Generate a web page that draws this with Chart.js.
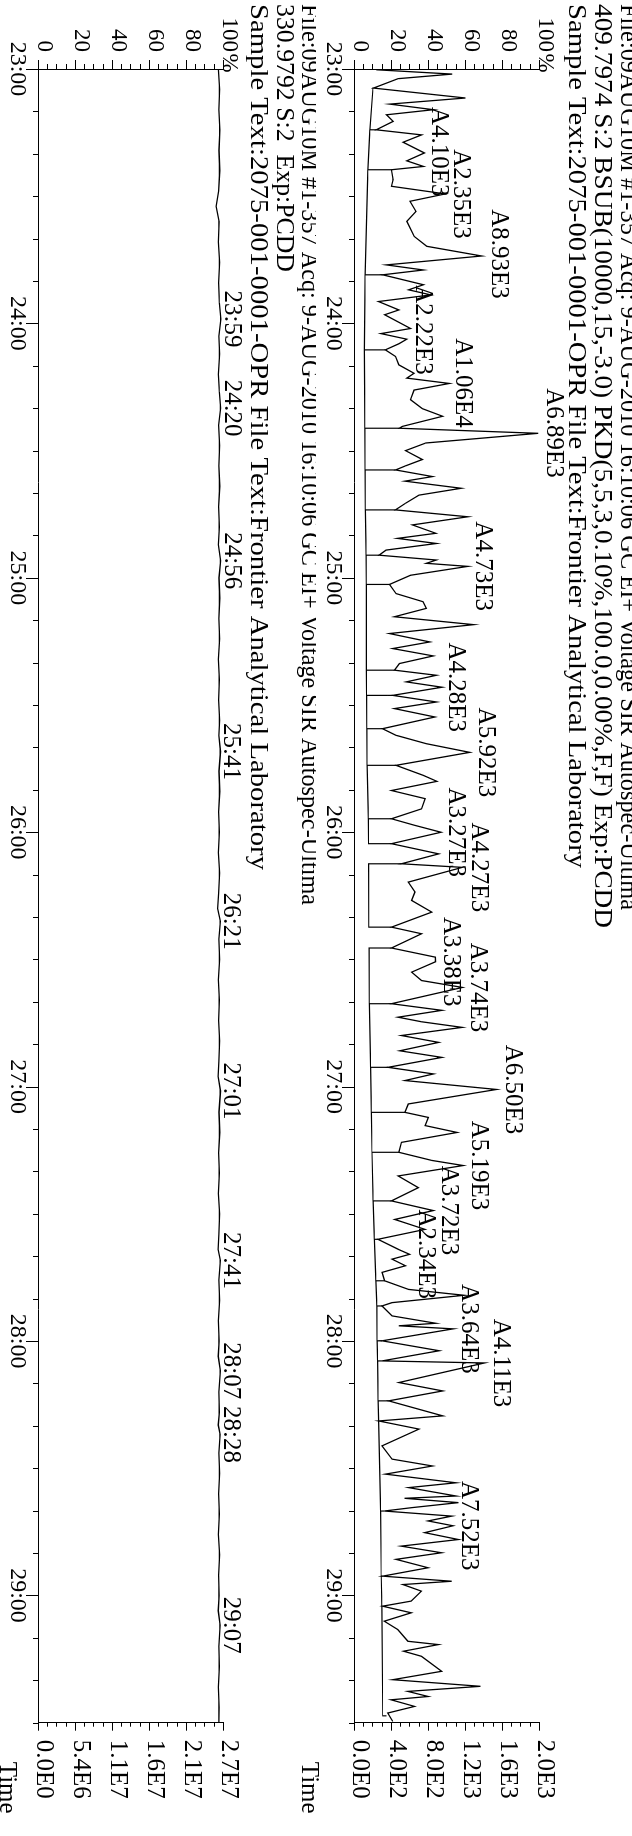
<!DOCTYPE html>
<html><head><meta charset="utf-8">
<script src="https://cdn.jsdelivr.net/npm/chart.js@4/dist/chart.umd.min.js"></script>
<style>
html,body{margin:0;padding:0;background:#fff;overflow:hidden;}
#page{position:absolute;left:0;top:0;width:632px;height:1836px;overflow:hidden;background:#fff;}
#rot{position:absolute;left:0;top:0;width:1836px;height:632px;transform-origin:0 0;transform:translate(632px,0) rotate(90deg);}
#rot canvas{position:absolute;left:0;}
</style></head><body>
<div id="page"><div id="rot">
<canvas id="c1" width="1836" height="340" style="top:0px"></canvas>
<canvas id="c2" width="1836" height="316" style="top:316px"></canvas>
</div></div>
<script>
// ---------- DATA ----------
const timeTickValues = [23, 24, 25, 26, 27, 28, 29];
const timeTickLabels = ['23:00', '24:00', '25:00', '26:00', '27:00', '28:00', '29:00'];
const pctTickValues = [0, 20, 40, 60, 80, 100];
const pctTickLabels = ['0', '20', '40', '60', '80', '100'];

const upperHeader = [
  'File:09AUG10M #1-357 Acq: 9-AUG-2010 16:10:06 GC EI+ Voltage SIR Autospec-Ultima',
  '409.7974 S:2 BSUB(10000,15,-3.0) PKD(5,5,3,0.10%,100.0,0.00%,F,F) Exp:PCDD',
  'Sample Text:2075-001-0001-OPR File Text:Frontier Analytical Laboratory'
];
const lowerHeader = [
  'File:09AUG10M #1-357 Acq: 9-AUG-2010 16:10:06 GC EI+ Voltage SIR Autospec-Ultima',
  '330.9792 S:2  Exp:PCDD',
  'Sample Text:2075-001-0001-OPR File Text:Frontier Analytical Laboratory'
];

const upperIntensityTicks = [0, 400, 800, 1200, 1600, 2000];
const upperIntensityLabels = ['0.0E0', '4.0E2', '8.0E2', '1.2E3', '1.6E3', '2.0E3'];
const lowerIntensityTicks = [0, 5.4e6, 1.08e7, 1.62e7, 2.16e7, 2.7e7];
const lowerIntensityLabels = ['0.0E0', '5.4E6', '1.1E7', '1.6E7', '2.1E7', '2.7E7'];

// upper trace (m/z 409.7974), time in minutes, intensity in %
const upperTimes = [
 23.003,23.020,23.038,23.075,23.114,23.138,23.160,23.180,23.206,23.239,23.259,23.288,23.330,23.361,23.383,23.396,23.435,23.461,23.491,23.520,
 23.560,23.599,23.658,23.697,23.735,23.770,23.790,23.809,23.848,23.868,23.888,
 23.914,23.947,23.966,24.020,24.040,24.062,24.080,24.104,24.130,24.163,24.196,24.215,24.236,24.262,24.300,24.335,24.365,24.405,24.412,
 24.432,24.470,24.500,24.535,24.560,24.576,24.602,24.620,24.648,24.675,24.707,24.733,24.760,24.792,24.825,
 24.845,24.865,24.891,24.911,24.930,24.943,24.955,24.990,25.026,25.062,25.094,25.120,25.153,25.184,25.219,25.252,25.278,25.307,25.337,25.363,
 25.383,25.409,25.430,25.462,25.488,25.514,25.547,25.593,25.619,25.652,25.686,25.737,25.776,
 25.800,25.836,25.868,25.908,25.947,25.973,26.000,26.045,26.085,26.124,26.138,26.196,26.235,26.268,26.314,26.373,26.399,26.455,26.491,26.509,
 26.550,26.583,26.610,26.674,26.700,26.727,
 26.745,26.767,26.799,26.826,26.859,26.885,26.924,26.950,26.976,27.011,27.068,27.101,27.121,27.153,27.180,27.219,27.258,27.290,27.310,27.351,
 27.397,27.449,27.487,27.522,27.561,27.600,27.639,27.659,
 27.678,27.704,27.730,27.763,27.797,27.820,27.849,27.862,27.901,27.930,27.940,27.952,27.999,28.038,28.078,28.086,28.163,28.196,28.235,28.294,
 28.314,28.346,28.412,28.464,28.491,28.523,28.557,28.576,28.609,
 28.618,28.635,28.655,28.668,28.688,28.707,28.726,28.753,28.780,28.806,28.832,28.858,28.891,28.924,28.944,28.957,28.983,29.022,29.042,29.068,
 29.101,29.134,29.180,29.193,29.219,29.239,29.298,29.331,29.357,29.377,29.397,29.410,29.436,29.462,29.495
];
const upperValues = [
 11.5,52.5,23.3,10.0,59.7,18.8,42.4,17.0,20.6,11.5,36.0,26.0,37.5,28.0,37.0,19.7,20.6,19.7,48.8,29.7,
 33.0,28.0,32.0,38.8,68.5,17.0,37.0,15.0,37.0,29.0,41.0,
 12.7,23.7,16.0,30.0,14.0,28.0,23.7,16.4,21.9,23.7,31.9,28.0,51.0,31.9,30.0,36.4,47.4,25.5,24.0,
 99.0,38.3,27.3,36.4,27.3,21.9,41.9,27.0,57.4,34.6,27.3,21.9,61.0,31.0,43.7,
 23.0,44.0,16.8,13.0,44.0,38.6,61.0,30.0,18.6,22.2,36.8,38.6,21.3,64.1,18.6,40.4,20.4,42.3,24.0,21.3,
 44.0,27.7,47.0,20.4,44.0,21.3,43.2,14.9,22.2,38.6,62.0,22.2,36.8,
 44.3,19.7,37.9,36.0,19.7,32.4,46.5,19.7,45.2,25.1,58.0,28.8,32.4,30.6,41.5,19.7,36.0,19.7,43.4,43.5,
 30.6,36.0,58.0,19.7,47.0,23.3,
 36.0,57.9,25.1,45.2,24.2,47.0,17.9,42.4,27.0,76.5,28.8,27.0,39.7,37.9,55.2,25.1,23.7,41.5,58.5,23.3,
 34.2,19.7,42.3,21.5,37.9,12.4,23.3,29.5,
 20.0,27.3,14.6,16.0,29.0,59.0,20.0,14.6,20.0,43.7,23.7,53.0,14.6,45.5,14.6,70.0,23.7,47.4,18.2,47.4,
 12.8,34.6,14.6,20.0,41.9,16.4,54.6,29.0,54.6,
 26.8,55.9,30.4,15.8,52.3,39.5,53.0,37.7,55.9,25.0,46.8,22.2,39.5,14.9,52.3,25.9,35.9,30.4,14.9,30.4,
 15.8,23.1,28.6,45.0,26.2,35.9,46.8,20.4,67.8,28.6,39.5,19.5,32.2,17.7,20.4
];

// integration baselines under the upper trace (boundary time, baseline level %, trace level %)
const baseTimes  = [23.075,23.239,23.396,23.809,24.104,24.412,24.576,24.733,24.911,25.026,25.363,25.462,25.593,25.737,25.947,26.045,26.124,26.373,26.455,26.674,26.924,27.101,27.258,27.449,27.600,27.763,27.862,27.999,28.078,28.235,28.314,28.668,28.924,29.042,29.473];
const baseLevels = [9.7,8.0,7.0,5.5,5.1,5.3,5.5,5.6,6.0,6.1,6.2,6.3,6.4,6.6,7.2,7.3,7.4,7.5,7.6,7.8,8.4,8.8,9.2,9.8,10.5,11.3,11.8,12.0,12.2,12.5,12.8,13.8,14.2,14.5,15.0];
const baseTops   = [10.0,11.5,19.7,15.0,16.4,24.0,21.9,21.9,13.0,18.6,21.3,20.4,14.9,22.2,19.7,19.7,25.1,19.7,19.7,19.7,17.9,27.0,23.7,19.7,12.4,16.0,14.6,14.6,14.6,18.2,12.8,15.8,14.9,14.9,17.0];
const baseGapAfter = [15, 17];

// labelled peaks of the upper trace
const upperPeakLabels = ['A4.10E3','A2.35E3','A8.93E3','A2.22E3','A1.06E4','A6.89E3','A4.73E3','A4.28E3','A5.92E3','A3.27E3','A4.27E3','A3.38E3','A3.74E3','A6.50E3','A5.19E3','A3.72E3','A2.34E3','A3.64E3','A4.11E3','A7.52E3'];
const upperPeakTimes  = [23.325,23.491,23.727,24.026,24.234,24.431,24.954,25.430,25.686,26.000,26.138,26.509,26.610,27.011,27.310,27.487,27.659,27.952,28.086,28.726];
const upperPeakValues = [37.0,48.6,69.0,28.0,50.0,99.0,60.5,46.0,62.0,46.0,58.5,43.2,57.7,76.6,58.5,42.3,29.7,53.0,70.3,53.0];

// lower trace (m/z 330.9792 lock mass), %
const lowerTimes = [23.00,23.08,23.16,23.24,23.32,23.40,23.48,23.54,23.60,23.68,23.76,23.84,23.92,23.983,24.05,24.12,24.20,24.27,24.333,24.40,
 24.48,24.56,24.64,24.72,24.80,24.87,24.933,25.00,25.08,25.16,25.24,25.32,25.40,25.48,25.56,25.62,25.683,25.76,25.84,25.92,
 26.00,26.08,26.16,26.24,26.30,26.35,26.42,26.50,26.58,26.66,26.74,26.82,26.90,26.96,27.017,27.10,27.18,27.26,27.34,27.42,
 27.50,27.58,27.64,27.683,27.76,27.84,27.92,28.00,28.06,28.117,28.20,28.28,28.33,28.367,28.44,28.52,28.60,28.68,28.76,28.84,
 28.92,29.00,29.06,29.117,29.20,29.28,29.36,29.44,29.50];
const lowerValues = [97.0,97.6,97.2,97.8,97.3,97.7,97.1,95.8,97.4,97.0,97.6,97.1,97.5,98.3,97.2,97.6,97.0,97.5,98.2,97.1,
 97.6,97.2,97.7,97.1,97.5,97.0,98.2,97.3,97.7,97.2,97.6,97.0,97.5,97.1,97.6,97.2,98.1,97.3,97.7,97.1,
 97.5,97.0,97.6,97.1,96.6,98.0,97.2,97.6,97.0,97.5,97.1,97.6,97.2,96.8,98.1,97.3,97.7,97.1,97.5,97.0,
 97.6,97.2,96.8,98.0,97.2,97.6,97.0,97.4,96.9,98.0,97.2,97.5,96.9,97.9,97.2,97.6,97.1,97.5,97.0,97.6,
 97.1,97.4,96.9,97.9,97.2,97.5,97.0,97.4,97.2];
const lowerPeakLabels = ['23:59','24:20','24:56','25:41','26:21','27:01','27:41','28:07','28:28','29:07'];
const lowerPeakTimes  = [23.983,24.333,24.933,25.683,26.350,27.017,27.683,28.117,28.367,29.117];
const lowerPeakValues = [98.3,98.2,98.2,98.1,98.0,98.1,98.0,98.0,97.9,97.9];

// ---------- CHART ----------
const SERIF = '"Liberation Serif", "Times New Roman", serif';
Chart.defaults.font.family = SERIF;
Chart.defaults.color = '#000';

function panelPlugin(p) {
  return {
    id: 'panel' + p.id,
    afterDraw(chart) {
      const ctx = chart.ctx, xs = chart.scales.x, ys = chart.scales.y, ca = chart.chartArea;
      ctx.save();
      ctx.strokeStyle = '#000'; ctx.lineWidth = 1;
      ctx.beginPath();
      for (let v = 0; v <= 100; v += 5) {
        const y = Math.round(ys.getPixelForValue(v)) + 0.5;
        const major = v % 20 === 0;
        ctx.moveTo(ca.left, y); ctx.lineTo(ca.left - (major ? 9 : 5), y);
        ctx.moveTo(ca.right, y); ctx.lineTo(ca.right + (major ? 8 : 4), y);
      }
      for (let s = 0; s <= 390; s += 10) {
        const x = Math.round(xs.getPixelForValue(23 + s / 60)) + 0.5;
        ctx.moveTo(x, ca.bottom); ctx.lineTo(x, ca.bottom + (s % 60 === 0 ? 13 : 6));
      }
      ctx.stroke();
      ctx.fillStyle = '#000';
      // header, each line fitted to the width it has in the print
      ctx.font = '25px ' + SERIF;
      ctx.textAlign = 'left'; ctx.textBaseline = 'middle';
      p.header.forEach((line, i) => {
        const w = ctx.measureText(line).width;
        const sx = (p.headerEnd[i] - 4) / w;
        ctx.save();
        ctx.translate(4, p.headerY[i]);
        ctx.scale(sx, 1);
        ctx.fillText(line, 0, 0);
        ctx.restore();
      });
      // % sign next to 100
      ctx.font = '23px ' + SERIF;
      ctx.textAlign = 'center';
      ctx.fillText('%', ca.left - 6, ys.getPixelForValue(100) - 5);
      // Time
      ctx.font = '25px ' + SERIF;
      ctx.fillText('Time', ca.right + 65, p.timeY);
      // peak labels
      ctx.font = '25px ' + SERIF;
      ctx.textAlign = 'center'; ctx.textBaseline = 'alphabetic';
      p.labels.forEach((lab, i) => {
        const x = xs.getPixelForValue(p.labelTimes[i]);
        const y = ys.getPixelForValue(p.labelValues[i]) - p.gap;
        ctx.fillText(lab, x, y);
      });
      ctx.restore();
    }
  };
}

function makeChart(id, H, datasets, intTicks, intLabels, p) {
  const axisBorder = {display: true, color: '#000', width: 1};
  return new Chart(document.getElementById(id), {
    type: 'line',
    data: {datasets},
    options: {
      responsive: false, animation: false, devicePixelRatio: 1,
      layout: {padding: {top: 92, left: 0, right: 0, bottom: 0}},
      plugins: {legend: {display: false}, tooltip: {enabled: false}, title: {display: false}},
      elements: {point: {radius: 0}, line: {tension: 0, borderWidth: 1.3, borderColor: '#000'}},
      scales: {
        x: {
          type: 'linear', position: 'bottom', min: 23, max: 29.5,
          afterBuildTicks: s => { s.ticks = timeTickValues.map(v => ({value: v})); },
          afterFit: s => { s.height = H - 277; },
          grid: {display: false, drawTicks: false}, border: axisBorder,
          ticks: {autoSkip: false, maxRotation: 0, minRotation: 0, padding: 7, color: '#000',
                  font: {size: 24, family: SERIF}, callback: (v, i) => timeTickLabels[i]}
        },
        y: {
          type: 'linear', position: 'left', min: 0, max: 100,
          afterBuildTicks: s => { s.ticks = pctTickValues.map(v => ({value: v})); },
          afterFit: s => { s.width = 69; },
          grid: {display: false, drawTicks: false}, border: axisBorder,
          ticks: {padding: 17, labelOffset: -5, color: '#000', font: {size: 23, family: SERIF},
                  callback: (v, i) => pctTickLabels[i]}
        },
        y2: {
          type: 'linear', position: 'right', min: 0, max: intTicks[intTicks.length - 1],
          afterBuildTicks: s => { s.ticks = intTicks.map(v => ({value: v})); },
          afterFit: s => { s.width = 1836 - 1722.7; },
          grid: {display: false, drawTicks: false}, border: axisBorder,
          ticks: {padding: 17, labelOffset: -5, color: '#000', font: {size: 25, family: SERIF},
                  callback: (v, i) => intLabels[i]}
        }
      }
    },
    plugins: [panelPlugin(p)]
  });
}

const upperTrace = upperTimes.map((t, i) => ({x: t, y: upperValues[i]}));
const basePts = [];
baseTimes.forEach((t, i) => {
  basePts.push({x: t, y: baseLevels[i]});
  basePts.push({x: t, y: baseTops[i]});
  basePts.push({x: t, y: baseLevels[i]});
  if (baseGapAfter.includes(i)) basePts.push({x: t + 0.0005, y: null});
});
const lowerTrace = lowerTimes.map((t, i) => ({x: t, y: lowerValues[i]}));

makeChart('c1', 340, [
  {data: upperTrace, yAxisID: 'y', borderColor: '#000', borderWidth: 1.3, pointRadius: 0},
  {data: basePts, yAxisID: 'y', borderColor: '#000', borderWidth: 1.2, pointRadius: 0, spanGaps: false}
], upperIntensityTicks, upperIntensityLabels, {
  id: 1, header: upperHeader, headerY: [4, 30, 56], headerEnd: [910, 928, 868], timeY: 323,
  labels: upperPeakLabels, labelTimes: upperPeakTimes, labelValues: upperPeakValues, gap: 9
});

makeChart('c2', 316, [
  {data: lowerTrace, yAxisID: 'y', borderColor: '#000', borderWidth: 1.3, pointRadius: 0}
], lowerIntensityTicks, lowerIntensityLabels, {
  id: 2, header: lowerHeader, headerY: [7, 32, 58], headerEnd: [905, 272, 870], timeY: 309,
  labels: lowerPeakLabels, labelTimes: lowerPeakTimes, labelValues: lowerPeakValues, gap: 4
});
</script>
</body></html>
